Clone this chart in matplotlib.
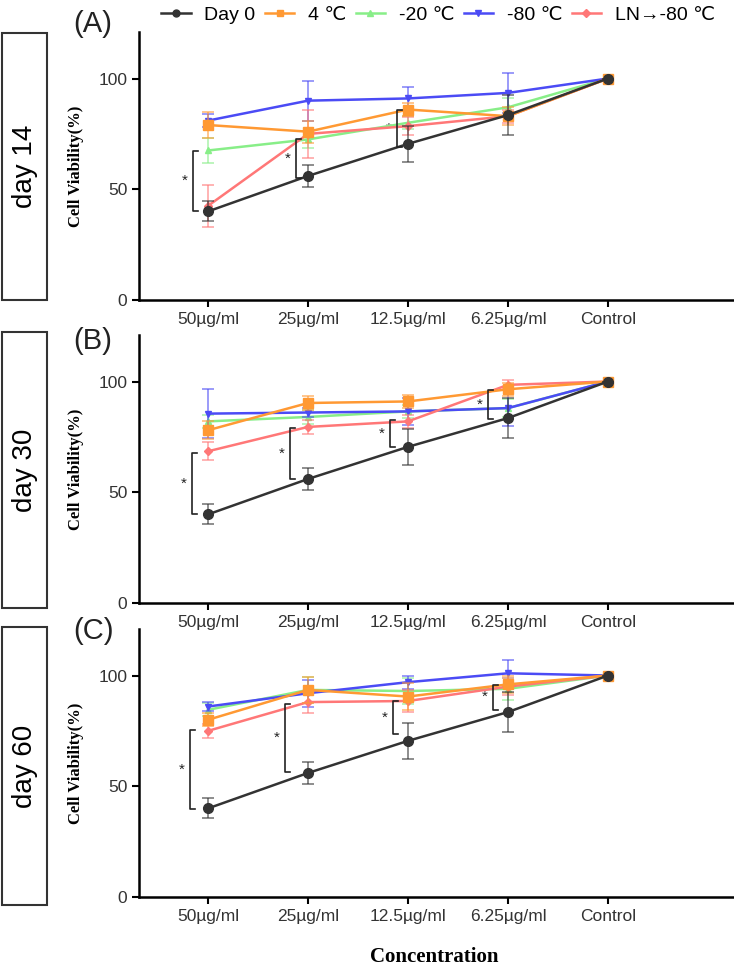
import numpy as np
import matplotlib
matplotlib.use("Agg")
import matplotlib.pyplot as plt
from matplotlib.patches import Rectangle
from matplotlib.lines import Line2D

plt.rcParams['font.family'] = ['Liberation Sans', 'DejaVu Sans']

# data
conc = ["50µg/ml", "25µg/ml", "12.5µg/ml", "6.25µg/ml", "Control"]
groups = ["Day 0", "4 ℃", "-20 ℃", "-80 ℃", "LN→-80 ℃"]
panels = ["(A)", "(B)", "(C)"]
days = ["day 14", "day 30", "day 60"]

day0 = [40, 56, 70.5, 83.5, 100]
day0_err = [4.5, 5, 8, 9, 0]

# day 14
a_4c = [79, 76, 86, 83, 100]
a_4c_err = [6, 5, 3, 4, 0]
a_20 = [67.5, 72.5, 80, 87, 100]
a_20_err = [5.5, 4, 3, 4, 0]
a_80 = [81, 90, 91, 93.5, 100]
a_80_err = [3, 9, 5, 9, 0]
a_ln = [42.5, 75, 78.5, 83, 100]
a_ln_err = [9.5, 11, 4, 3, 0]

# day 30
b_4c = [78, 90.3, 91, 96.5, 100]
b_4c_err = [4, 3, 3, 3, 0]
b_20 = [82, 84, 86.5, 88, 100]
b_20_err = [3, 3, 3, 4, 0]
b_80 = [85.5, 86, 86.5, 88, 100]
b_80_err = [11, 2, 6, 8, 0]
b_ln = [68.5, 79.5, 82, 98.5, 100]
b_ln_err = [4, 3, 3, 2, 0]

# day 60
c_4c = [80, 93.5, 90.5, 96, 100]
c_4c_err = [3, 6, 6, 4, 0]
c_20 = [84.5, 93.5, 93, 94, 100]
c_20_err = [3, 6, 6, 5, 0]
c_80 = [86, 92, 97, 101, 100]
c_80_err = [2, 6, 3, 6, 0]
c_ln = [75, 88, 88.5, 95, 100]
c_ln_err = [3, 5, 5, 4, 0]

# significance brackets: (group index, low, high)
a_sig = [(0, 40.3, 67.4), (1, 55, 72.8), (2, 69, 85.8)]
b_sig = [(0, 40.4, 67.6), (1, 55.8, 79.2), (2, 70.3, 82.4), (3, 83.1, 96)]
c_sig = [(0, 39.8, 75.5), (1, 56.3, 87.3), (2, 73.4, 88.7), (3, 84.6, 95.9)]
sig_offset = [[-0.15, -0.12, -0.11], [-0.16, -0.18, -0.18, -0.2], [-0.18, -0.23, -0.15, -0.15]]

panel_data = [
    [(a_4c, a_4c_err), (a_20, a_20_err), (a_80, a_80_err), (a_ln, a_ln_err)],
    [(b_4c, b_4c_err), (b_20, b_20_err), (b_80, b_80_err), (b_ln, b_ln_err)],
    [(c_4c, c_4c_err), (c_20, c_20_err), (c_80, c_80_err), (c_ln, c_ln_err)],
]
panel_sig = [a_sig, b_sig, c_sig]

colors = ["#333333", "#FF9933", "#88EE88", "#4B4BF5", "#FF7777"]
markers = ["o", "s", "^", "v", "D"]
msizes = [7, 7, 4.5, 4.5, 4]
zorders = [10, 6, 3, 4, 5]

W, H = 734, 966
fig = plt.figure(figsize=(W / 100, H / 100), dpi=100)

ax_bottom_px = [300, 603, 897]
ax_h_px = 268
left_px = 139
box_px = [(33, 300), (332, 608), (627, 905)]
letter_y = [24, 341, 631]

x = np.arange(len(conc))
for p in range(3):
    ax = fig.add_axes([left_px / W, 1 - ax_bottom_px[p] / H, 1 - left_px / W, ax_h_px / H])
    series = [(day0, day0_err)] + panel_data[p]
    for k in [2, 3, 4, 1, 0]:
        vals, errs = series[k]
        ax.errorbar(x, vals, yerr=errs, fmt='none', ecolor=colors[k], alpha=0.6,
                    elinewidth=1.3, capsize=4, capthick=1.3, zorder=zorders[k])
        ax.plot(x, vals, color=colors[k], marker=markers[k], markersize=msizes[k],
                lw=1.8, zorder=zorders[k] + 0.5)
    for j, (gi, lo, hi) in enumerate(panel_sig[p]):
        bx = gi + sig_offset[p][j]
        ax.plot([bx + 0.05, bx, bx, bx + 0.05], [lo, lo, hi, hi], color="#222222", lw=1.2, zorder=12)
        ax.text(bx - 0.08, (lo + hi) / 2, "*", ha='center', va='center', fontsize=11, color="#222222")
    ax.set_xlim(-0.69, 5.26)
    ax.set_ylim(0, 121)
    ax.set_yticks([0, 50, 100])
    ax.set_xticks(x)
    ax.set_xticklabels(conc)
    ax.tick_params(axis='both', labelsize=12.5, labelcolor="#333333", width=1.5, length=5, direction='out')
    ax.spines['top'].set_visible(False)
    ax.spines['right'].set_visible(False)
    ax.spines['left'].set_linewidth(1.8)
    ax.spines['bottom'].set_linewidth(1.8)
    ax.set_ylabel("Cell Viability(%)", family="Liberation Serif", fontweight='bold', fontsize=12, labelpad=10)
    ax.patch.set_alpha(0)

    y0, y1 = box_px[p]
    fig.patches.append(Rectangle((2 / W, 1 - y1 / H), 45 / W, (y1 - y0) / H, transform=fig.transFigure,
                                 fill=False, edgecolor="#333333", lw=1.5))
    fig.text(24.5 / W, 1 - (y0 + y1) / 2 / H, days[p], rotation=90, ha='center', va='center', fontsize=20)
    fig.text(93 / W, 1 - letter_y[p] / H, panels[p], ha='center', va='center', fontsize=21, color="#222222")

fig.text(434 / W, 1 - 957 / H, "Concentration", ha='center', va='center', family="Liberation Serif",
         fontweight='bold', fontsize=15)

handles = [Line2D([], [], color=colors[k], marker=markers[k], markersize=4 if k else 5, lw=1.8)
           for k in range(5)]
fig.legend(handles, groups, loc='center', bbox_to_anchor=(438 / W, 1 - 15 / H), ncol=5, frameon=False,
           fontsize=14, handlelength=1.5, handletextpad=0.7, columnspacing=0.5, borderaxespad=0)

fig.savefig("out.png", dpi=100)
